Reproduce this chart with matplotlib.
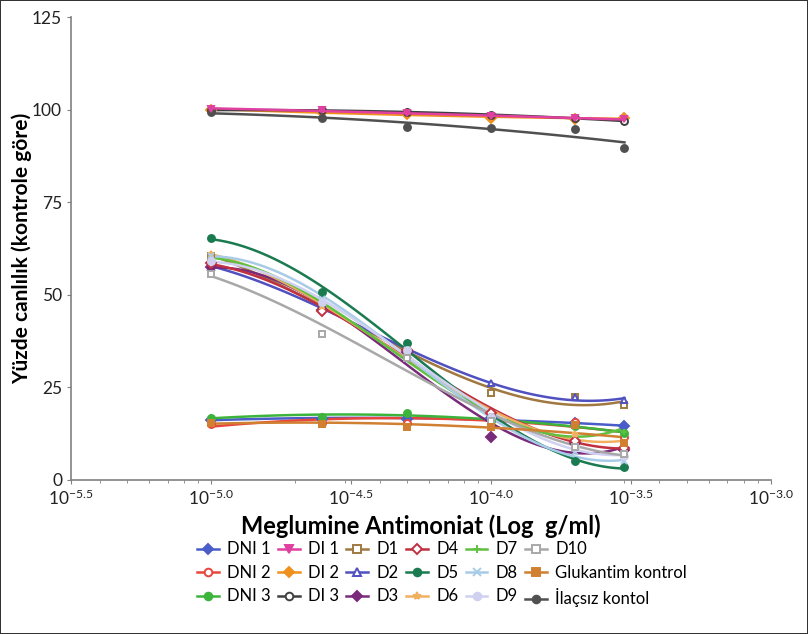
import numpy as np
import matplotlib
matplotlib.use('Agg')
import matplotlib.pyplot as plt
from matplotlib.ticker import FixedLocator, LogLocator, NullFormatter

plt.rcParams['font.family'] = ['Lato', 'DejaVu Sans']
plt.rcParams['mathtext.fontset'] = 'custom'
plt.rcParams['mathtext.rm'] = 'Lato'
plt.rcParams['mathtext.it'] = 'Lato:italic'

# concentrations (g/ml)
conc = [1e-5, 2.5e-5, 5e-5, 1e-4, 2e-4, 3e-4]

names = ['DNI 1', 'DNI 2', 'DNI 3', 'DI 1', 'DI 2', 'DI 3',
         'D1', 'D2', 'D3', 'D4', 'D5', 'D6', 'D7', 'D8', 'D9', 'D10',
         'Glukantim kontrol', 'İlaçsız kontol']

dni1 = [16.3, 16.4, 16.5, 16.8, 15.3, 14.5]
dni2 = [15.0, 15.5, 15.5, 17.5, 15.6, 11.5]
dni3 = [16.8, 17.0, 18.2, 16.0, 14.5, 12.8]
di1 = [100.3, 99.8, 99.0, 98.3, 97.7, 97.4]
di2 = [100.0, 99.5, 98.7, 97.8, 97.5, 97.8]
di3 = [99.8, 100.0, 99.3, 98.5, 97.8, 96.9]
d1 = [60.5, 47.5, 34.5, 23.5, 22.3, 20.3]
d2 = [57.5, 47.5, 34.0, 26.3, 22.5, 21.5]
d3 = [57.5, 46.0, 34.5, 11.5, 10.0, 8.0]
d4 = [58.5, 45.5, 35.0, 18.0, 10.5, 8.5]
d5 = [65.3, 50.8, 37.0, 17.0, 5.0, 3.5]
d6 = [61.0, 47.0, 34.0, 17.0, 12.5, 10.0]
d7 = [60.0, 47.5, 34.0, 15.0, 14.5, 13.0]
d8 = [60.5, 49.0, 35.0, 15.0, 7.5, 5.0]
d9 = [59.0, 48.0, 35.0, 17.0, 9.0, 6.5]
d10 = [55.5, 39.5, 33.0, 16.0, 9.0, 7.0]
glukantim = [15.5, 15.2, 14.3, 14.2, 14.8, 10.0]
ilacsiz = [99.3, 97.8, 95.4, 95.0, 94.8, 89.6]

series = [dni1, dni2, dni3, di1, di2, di3, d1, d2, d3, d4, d5, d6, d7, d8, d9, d10,
          glukantim, ilacsiz]

# (color, marker, filled)
styles = [
    ('#4a5cc8', 'D', True),
    ('#e8463c', 'o', False),
    ('#3cb43c', 'o', True),
    ('#e040a0', 'v', True),
    ('#f0901e', 'D', True),
    ('#404040', 'o', False),
    ('#a07840', 's', False),
    ('#5050c0', '^', False),
    ('#7a2a7a', 'D', True),
    ('#c03040', 'D', False),
    ('#1a7a50', 'o', True),
    ('#f0b060', '*', True),
    ('#60c040', '+', True),
    ('#a8cce8', 'x', True),
    ('#d0d0f0', 'o', True),
    ('#a8a8a8', 's', False),
    ('#d08030', 's', True),
    ('#505050', 'o', True),
]
# pink DI 1 sits on top of the control cluster
zorders = {'DI 1': 5}

fig = plt.figure(figsize=(8.08, 6.34), dpi=100)
fig.patch.set_edgecolor('#333333')
fig.patch.set_linewidth(1.2)
ax = fig.add_axes([0.088, 0.243, 0.866, 0.730])

lx = np.log10(conc)
xs = np.linspace(lx[0], lx[-1], 80)
for name, vals, (col, mk, filled) in zip(names, series, styles):
    z = zorders.get(name, 2)
    # dose-response series get a cubic trend, the flat ones a quadratic
    deg = 3 if name.startswith('D') and not name.startswith(('DI', 'DN')) else 2
    coef = np.polyfit(lx, vals, deg)
    ax.plot(10 ** xs, np.polyval(coef, xs), color=col, lw=1.8, zorder=z)
    ax.plot(conc, vals, linestyle='none', marker=mk, ms=5,
            markerfacecolor=col if filled else 'white', markeredgecolor=col,
            markeredgewidth=1.4, zorder=z + 1)
    # legend proxy
    ax.plot([], [], color=col, lw=1.8, marker=mk, ms=5.5,
            markerfacecolor=col if filled else 'white', markeredgecolor=col,
            markeredgewidth=1.4, label=name)

ax.set_xscale('log')
ax.set_xlim(10 ** -5.5, 10 ** -3.0)
ax.set_ylim(0, 125)
ax.set_yticks([0, 25, 50, 75, 100, 125])

maj = [-5.5, -5.0, -4.5, -4.0, -3.5, -3.0]
ax.xaxis.set_major_locator(FixedLocator([10 ** m for m in maj]))
ax.set_xticklabels([r'$10^{%.1f}$' % m for m in maj])
ax.xaxis.set_minor_locator(LogLocator(base=10, subs=np.arange(2, 10)))
ax.xaxis.set_minor_formatter(NullFormatter())

for s in ['top', 'right']:
    ax.spines[s].set_visible(False)
for s in ['left', 'bottom']:
    ax.spines[s].set_color('#808080')
    ax.spines[s].set_linewidth(1.2)
ax.tick_params(axis='both', colors='#808080', labelcolor='#222222', labelsize=12.5,
               direction='out', length=3)
ax.tick_params(axis='x', which='minor', colors='#808080', length=2)

ax.set_xlabel('Meglumine Antimoniat (Log  g/ml)', fontsize=17, fontweight='bold', labelpad=4)
ax.set_ylabel('Yüzde canlılık (kontrole göre)', fontsize=15, fontweight='bold', labelpad=0)

fig.legend(loc='center', bbox_to_anchor=(0.547, 0.094), ncol=6, frameon=False,
           fontsize=12, handlelength=1.3, columnspacing=0.45, labelspacing=0.45,
           handletextpad=0.5)

fig.savefig('out.png', dpi=100)
